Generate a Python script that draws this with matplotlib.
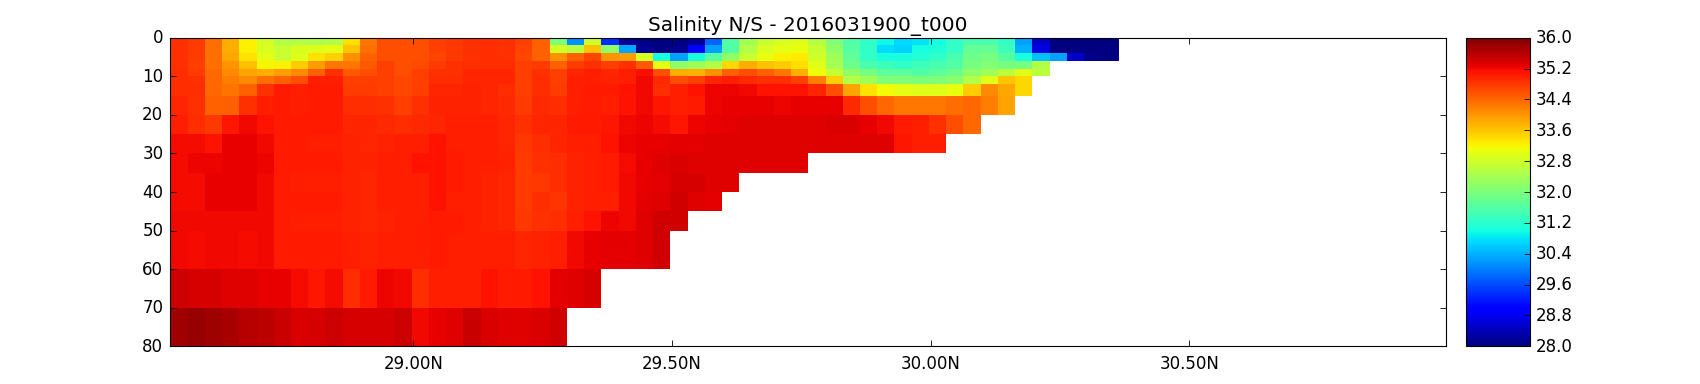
import numpy as np
import matplotlib
matplotlib.use("Agg")
import matplotlib.pyplot as plt
from matplotlib.transforms import ScaledTranslation

depth_edges = [0, 2, 4, 6, 8, 10, 12, 15, 20, 25, 30, 35, 40, 45, 50, 60, 70, 80]
lat_first = 28.53
lat_step = 0.03333
lat_ticks = [29.0, 29.5, 30.0, 30.5]
lat_labels = ["29.00N", "29.50N", "30.00N", "30.50N"]
depth_ticks = [0, 10, 20, 30, 40, 50, 60, 70, 80]
cbar_ticks = [28.0, 28.8, 29.6, 30.4, 31.2, 32.0, 32.8, 33.6, 34.4, 35.2, 36.0]

# one list per depth layer, north of the last value is land/bottom
sal_00 = [34.85, 34.78, 34.33, 33.8, 33.24, 32.85, 32.5, 32.5, 32.48, 32.52, 33.35, 34.27, 34.6, 34.6, 34.6,
          34.74, 34.8, 34.87, 34.9, 34.87, 34.72, 34.46, 32.0, 30.15, 32.8, 29.35, 28.15, 28.05, 28.0, 28.05,
          28.2, 29.8, 31.58, 32.4, 32.74, 32.9, 32.98, 32.55, 32.05, 31.58, 31.28, 30.95, 30.7, 30.8, 31.0,
          31.25, 31.5, 31.5, 31.25, 30.25, 28.5, 28.0, 28.0, 28.0, 28.0]
sal_02 = [34.85, 34.78, 34.33, 33.8, 33.24, 32.9, 32.74, 32.9, 32.95, 33.0, 33.62, 34.33, 34.6, 34.6, 34.6,
          34.72, 34.8, 34.87, 34.9, 34.87, 34.7, 34.46, 32.85, 32.6, 33.65, 32.2, 30.3, 28.15, 28.0, 28.1,
          28.9, 30.28, 31.6, 32.5, 32.9, 33.0, 33.05, 32.74, 32.2, 31.65, 31.28, 30.72, 30.65, 31.0, 31.1,
          31.28, 31.75, 31.75, 31.4, 30.4, 28.7, 28.0, 28.0, 28.0, 28.0]
sal_04 = [34.85, 34.78, 34.33, 33.85, 33.35, 33.0, 32.74, 32.95, 33.35, 33.52, 34.06, 34.46, 34.6, 34.6, 34.6,
          34.7, 34.8, 34.87, 34.9, 34.87, 34.68, 34.46, 34.06, 34.46, 34.7, 34.0, 33.95, 32.9, 31.04, 30.26,
          31.04, 31.65, 32.2, 32.74, 33.05, 33.24, 33.3, 32.8, 32.36, 31.74, 31.28, 31.04, 31.04, 31.15, 31.28,
          31.5, 31.85, 31.95, 31.65, 31.04, 30.5, 30.26, 28.5, 28.1, 28.0]
sal_06 = [34.85, 34.74, 34.33, 34.0, 33.65, 33.2, 33.24, 33.55, 33.95, 34.25, 34.25, 34.5, 34.72, 34.6, 34.65,
          34.78, 34.85, 34.9, 34.9, 34.9, 34.72, 34.78, 34.46, 34.78, 34.85, 34.74, 34.85, 34.5, 33.05, 32.2,
          32.36, 32.5, 33.45, 33.8, 33.65, 33.55, 33.4, 32.98, 32.4, 31.85, 31.5, 31.4, 31.28, 31.4, 31.5,
          31.6, 31.95, 32.05, 31.95, 31.95, 32.5]
sal_08 = [34.9, 34.78, 34.4, 34.1, 33.9, 33.8, 33.95, 34.1, 34.46, 34.87, 34.5, 34.6, 34.74, 34.6, 34.72,
          34.85, 34.85, 34.95, 34.95, 34.95, 34.72, 34.85, 34.72, 34.95, 35.0, 34.95, 35.0, 35.15, 34.6, 33.8,
          33.75, 34.06, 34.46, 34.6, 34.46, 34.27, 33.8, 33.15, 32.74, 32.2, 31.95, 31.7, 31.7, 31.6, 31.7,
          31.85, 32.2, 32.36, 32.6, 32.98, 32.6]
sal_10 = [34.9, 34.85, 34.4, 34.2, 34.1, 34.33, 34.46, 34.6, 35.0, 35.0, 34.72, 34.72, 34.72, 34.66, 34.72,
          34.9, 34.9, 34.95, 34.95, 34.95, 34.72, 34.9, 34.72, 35.0, 35.03, 34.97, 35.03, 35.2, 34.92, 34.6,
          34.74, 34.95, 35.0, 34.92, 34.87, 34.87, 34.74, 34.2, 33.52, 32.5, 32.36, 32.05, 32.05, 32.0, 32.05,
          32.15, 32.5, 32.98, 33.6, 33.45]
sal_12 = [34.9, 34.9, 34.4, 34.3, 34.46, 34.85, 35.05, 35.0, 35.05, 35.05, 34.78, 34.78, 34.72, 34.66, 34.72,
          34.95, 34.95, 34.97, 34.95, 34.9, 34.72, 34.9, 34.78, 35.0, 35.05, 35.05, 35.1, 35.2, 34.9, 35.0,
          35.12, 35.22, 35.22, 35.2, 35.1, 35.1, 35.1, 34.95, 34.6, 33.9, 33.35, 33.15, 33.0, 32.95, 32.95,
          33.05, 33.55, 34.1, 33.85, 33.45]
sal_15 = [34.95, 34.85, 34.46, 34.46, 34.85, 35.03, 35.05, 35.03, 35.05, 35.05, 34.9, 34.9, 34.85, 34.74, 34.85,
          34.97, 34.97, 34.97, 34.95, 34.92, 34.78, 34.92, 34.9, 35.03, 35.05, 35.03, 35.12, 35.2, 35.08, 35.0,
          35.05, 35.22, 35.26, 35.26, 35.26, 35.22, 35.26, 35.28, 35.28, 34.92, 34.6, 34.4, 34.25, 34.25, 34.25,
          34.35, 34.4, 34.2, 33.9]
sal_20 = [35.0, 34.9, 34.8, 35.08, 35.2, 35.1, 35.05, 35.05, 35.05, 35.05, 34.95, 34.95, 34.92, 34.9, 34.92,
          34.95, 35.0, 35.0, 35.0, 34.95, 34.85, 34.95, 34.95, 35.05, 35.05, 35.08, 35.2, 35.22, 35.18, 35.08,
          35.24, 35.26, 35.3, 35.32, 35.32, 35.33, 35.33, 35.33, 35.35, 35.35, 35.28, 35.2, 35.05, 35.03, 34.87,
          34.6, 34.4]
sal_25 = [35.18, 35.18, 35.12, 35.26, 35.28, 35.2, 35.05, 35.05, 35.03, 35.03, 34.97, 34.95, 34.97, 35.0, 35.0,
          35.12, 35.0, 35.0, 35.0, 34.95, 34.8, 34.88, 34.95, 35.03, 35.03, 35.12, 35.24, 35.26, 35.26, 35.3,
          35.3, 35.32, 35.32, 35.33, 35.33, 35.33, 35.33, 35.33, 35.33, 35.33, 35.33, 35.33, 35.08, 35.03, 35.0]
sal_30 = [35.18, 35.24, 35.24, 35.26, 35.26, 35.22, 35.05, 35.05, 35.05, 35.05, 34.97, 34.97, 35.0, 35.03, 35.1,
          35.12, 35.05, 35.0, 35.0, 34.97, 34.78, 34.85, 34.9, 34.97, 35.03, 35.05, 35.18, 35.26, 35.32, 35.35,
          35.33, 35.32, 35.33, 35.33, 35.33, 35.33, 35.33]
sal_35 = [35.18, 35.18, 35.25, 35.28, 35.28, 35.2, 35.05, 35.03, 35.03, 35.03, 34.97, 34.95, 35.0, 35.0, 35.03,
          35.12, 35.05, 35.0, 34.97, 34.95, 34.78, 34.8, 34.9, 34.97, 35.03, 35.05, 35.2, 35.28, 35.3, 35.38,
          35.38, 35.33, 35.33]
sal_40 = [35.18, 35.18, 35.25, 35.28, 35.28, 35.2, 35.05, 35.04, 35.04, 35.04, 34.97, 34.95, 35.0, 35.03, 35.03,
          35.1, 35.03, 35.0, 34.97, 34.95, 34.78, 34.9, 34.82, 34.97, 35.0, 35.03, 35.2, 35.3, 35.33, 35.42,
          35.33, 35.3]
sal_45 = [35.2, 35.2, 35.2, 35.2, 35.2, 35.2, 35.05, 35.03, 35.03, 35.03, 34.97, 34.95, 34.97, 35.0, 35.0,
          35.05, 35.05, 35.0, 34.97, 34.95, 34.8, 34.87, 34.9, 35.0, 35.1, 35.24, 35.2, 35.33, 35.42, 35.42]
sal_50 = [35.2, 35.18, 35.2, 35.2, 35.18, 35.2, 35.05, 35.04, 35.04, 35.04, 35.0, 34.97, 35.0, 35.03, 35.03,
          35.05, 35.03, 35.0, 35.0, 35.0, 34.95, 34.97, 35.0, 35.2, 35.28, 35.3, 35.3, 35.33, 35.42]
sal_60 = [35.45, 35.38, 35.38, 35.34, 35.32, 35.28, 35.26, 35.16, 35.08, 35.18, 34.88, 35.06, 35.22, 35.2, 34.9,
          35.03, 35.03, 35.03, 35.1, 35.05, 35.05, 35.1, 35.3, 35.34, 35.38]
sal_70 = [35.78, 35.82, 35.78, 35.7, 35.62, 35.58, 35.48, 35.36, 35.38, 35.45, 35.38, 35.4, 35.4, 35.44, 35.2,
          35.28, 35.33, 35.48, 35.36, 35.33, 35.33, 35.36, 35.42]

layers = [sal_00, sal_02, sal_04, sal_06, sal_08, sal_10, sal_12, sal_15, sal_20,
          sal_25, sal_30, sal_35, sal_40, sal_45, sal_50, sal_60, sal_70]


def main():
    n_lat = max(len(row) for row in layers)
    grid = np.full((len(layers), n_lat), np.nan)
    for i, row in enumerate(layers):
        grid[i, :len(row)] = row
    lat_edges = lat_first + lat_step * np.arange(n_lat + 1)

    fig = plt.figure(figsize=(17, 3.84), dpi=100)
    ax = fig.add_axes([170.3 / 1700, 37.7 / 384, 1275.7 / 1700, 308.6 / 384])
    mesh = ax.pcolormesh(lat_edges, depth_edges, np.ma.masked_invalid(grid),
                         cmap="jet", vmin=28, vmax=36)
    ax.set_xlim(28.53, 30.996)
    ax.set_ylim(80, 0)
    ax.set_xticks(lat_ticks)
    ax.set_xticklabels(lat_labels)
    ax.set_yticks(depth_ticks)
    ax.tick_params(direction="in", top=True, right=True, length=4, width=0.6, labelsize=12)
    ax.tick_params(axis="x", pad=6)
    ax.tick_params(axis="y", pad=5)
    ax.set_title("Salinity N/S - 2016031900_t000", fontsize=14.4, pad=5)

    cax = fig.add_axes([1466 / 1700, 37.7 / 384, 64 / 1700, 308.6 / 384])
    cb = fig.colorbar(mesh, cax=cax, ticks=cbar_ticks)
    cb.ax.set_yticklabels([f"{t:.1f}" for t in cbar_ticks])
    cb.ax.tick_params(direction="in", length=4, width=0.6, labelsize=12, pad=4, color="k")

    # labels sit a little higher in the original
    nudge = ScaledTranslation(0, 1.5 / 100, fig.dpi_scale_trans)
    for label in ax.get_yticklabels() + cb.ax.get_yticklabels():
        label.set_transform(label.get_transform() + nudge)

    fig.savefig("out.png", dpi=100)
    plt.close(fig)


if __name__ == "__main__":
    main()
